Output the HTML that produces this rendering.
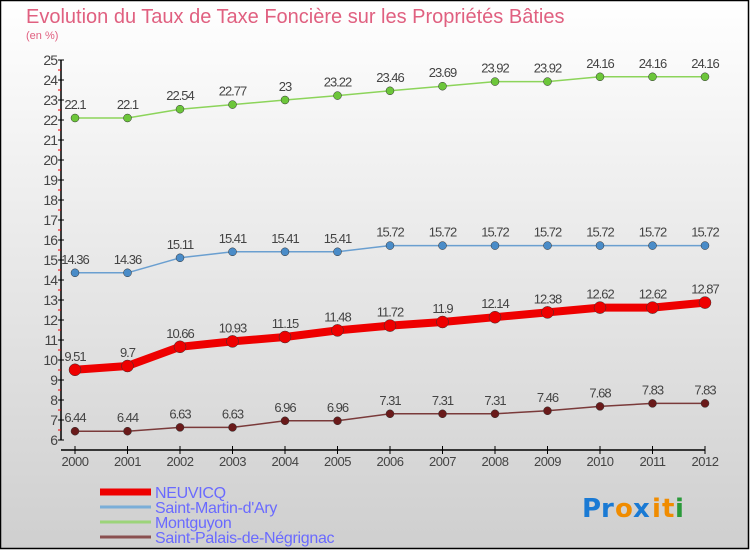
<!DOCTYPE html>
<html><head><meta charset="utf-8"><style>
html,body{margin:0;padding:0;}
body{width:750px;height:550px;overflow:hidden;font-family:"Liberation Sans","DejaVu Sans",sans-serif;}
</style></head><body>
<svg id="c" width="750" height="550" xmlns="http://www.w3.org/2000/svg" font-family="'Liberation Sans',sans-serif">
<defs><linearGradient id="bg" x1="0" y1="0" x2="0" y2="1"><stop offset="0" stop-color="#ffffff"/><stop offset="1" stop-color="#cfcfcf"/></linearGradient></defs>
<rect x="0.5" y="0.5" width="748" height="548" fill="url(#bg)" stroke="#000" stroke-width="1.5"/>
<text x="26" y="23" font-size="20" fill="#e06080">Evolution du Taux de Taxe Foncière sur les Propriétés Bâties</text>
<text x="26" y="39" font-size="11" fill="#e06080">(en %)</text>
<g id="axes"></g><g id="series"></g><g id="legend"></g>
<g font-size="26" font-weight="bold" font-family="'DejaVu Sans',sans-serif">
<text x="582" y="517" fill="#1a7ad4">Pr</text><text x="615" y="517" fill="#f08c00">o</text><text x="633" y="517" fill="#1a7ad4">x</text><text x="652" y="517" fill="#f08c00">i</text><text x="662" y="517" fill="#f08c00">t</text><text x="675" y="517" fill="#2a9a3a">i</text>
</g>
</svg>
<script>
const years=["2000","2001","2002","2003","2004","2005","2006","2007","2008","2009","2010","2011","2012"];
const neuvicq=[9.51,9.7,10.66,10.93,11.15,11.48,11.72,11.9,12.14,12.38,12.62,12.62,12.87];
const stMartin=[14.36,14.36,15.11,15.41,15.41,15.41,15.72,15.72,15.72,15.72,15.72,15.72,15.72];
const montguyon=[22.1,22.1,22.54,22.77,23,23.22,23.46,23.69,23.92,23.92,24.16,24.16,24.16];
const stPalais=[6.44,6.44,6.63,6.63,6.96,6.96,7.31,7.31,7.31,7.46,7.68,7.83,7.83];
const yTicks=[6,7,8,9,10,11,12,13,14,15,16,17,18,19,20,21,22,23,24,25];
const NS="http://www.w3.org/2000/svg";
const X=i=>75+i*52.5, Y=v=>440-(v-6)*20;
function mk(p,t,a){const e=document.createElementNS(NS,t);for(const k in a)e.setAttribute(k,a[k]);p.appendChild(e);return e;}
const ax=document.getElementById('axes');
let yl=mk(ax,'line',{x1:61,y1:Y(25),x2:61,y2:Y(6),stroke:'#000','stroke-width':1.5});


yTicks.forEach(v=>{
 mk(ax,'line',{x1:58,y1:Y(v),x2:64,y2:Y(v),stroke:'#000'});
 if(v<25)mk(ax,'line',{x1:58,y1:Y(v+0.5),x2:61,y2:Y(v+0.5),stroke:'#e00'});
 const t=mk(ax,'text',{x:57,y:Y(v)+5,'text-anchor':'end','font-size':14,fill:'#444','letter-spacing':'-1'});
 t.textContent=v;
 
 
});
let xl=mk(ax,'line',{x1:61,y1:450,x2:X(12),y2:450,stroke:'#000','stroke-width':1.5});


years.forEach((y,i)=>{
 mk(ax,'line',{x1:X(i),y1:446,x2:X(i),y2:454,stroke:'#000'});
 const t=mk(ax,'text',{x:X(i),y:466,'text-anchor':'middle','font-size':13,fill:'#444','letter-spacing':'-0.5'});
 t.textContent=y;
 
 
});
const sg=document.getElementById('series');
function series(name,data,color,dot,w,r,fs){
 const g=mk(sg,'g',{});
 
 
 mk(g,'polyline',{points:data.map((v,i)=>X(i)+','+Y(v)).join(' '),fill:'none',stroke:color,'stroke-width':w,'stroke-linejoin':'round'});
 data.forEach((v,i)=>{
  const c=mk(g,'circle',{cx:X(i),cy:Y(v),r:r,fill:dot,stroke:'#333','stroke-width':0.5});
  
  
  const t=mk(g,'text',{x:X(i),y:Y(v)-9,'text-anchor':'middle','font-size':fs,fill:'#444','letter-spacing':'-1'});
  t.textContent=v;
  
  
 });
}
series('montguyon-series',montguyon,'#8cd45a','#6cc63a',1.5,4,13);
series('saint-martin-series',stMartin,'#6a9fd0','#4a8cc8',1.5,4,13);
series('saint-palais-series',stPalais,'#7a3a3a','#6a1a1a',1.5,4,13);
series('neuvicq-series',neuvicq,'#ee0000','#ee0000',8,6,13);
const lg=document.getElementById('legend');
[["NEUVICQ","#ee0000",7],["Saint-Martin-d'Ary","#7aaed8",3],["Montguyon","#9cd47a",3],["Saint-Palais-de-Négrignac","#8a5050",3]].forEach((e,i)=>{
 const y=492+i*15;
 const g=mk(lg,'g',{});
 
 
 mk(g,'line',{x1:100,y1:y,x2:151,y2:y,stroke:e[1],'stroke-width':e[2]});
 const t=mk(g,'text',{x:155,y:y+6,'font-size':16,fill:'#6a6aff','letter-spacing':'-0.3'});
 t.textContent=e[0];
});
</script>
</body></html>
